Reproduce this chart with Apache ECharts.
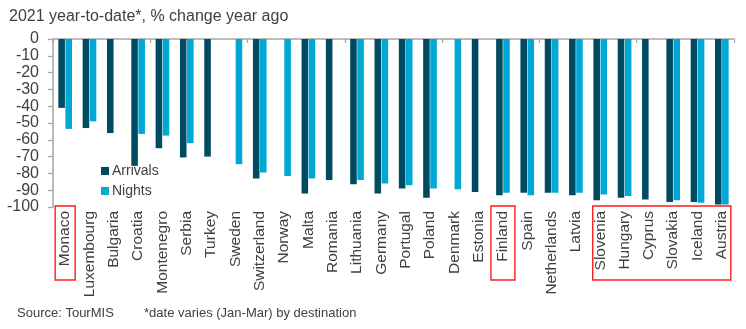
<!DOCTYPE html>
<html>
<head>
<meta charset="utf-8">
<script src="https://cdn.jsdelivr.net/npm/echarts@6/dist/echarts.min.js"></script>
<style>
  html, body { margin: 0; padding: 0; background: #fff; }
  #chart { width: 746px; height: 329px; }
</style>
</head>
<body>
<div id="chart"></div>
<script>
// Tourism change by destination, 2021 year-to-date vs year ago (%)
const countries = ['Monaco', 'Luxembourg', 'Bulgaria', 'Croatia', 'Montenegro', 'Serbia', 'Turkey',
  'Sweden', 'Switzerland', 'Norway', 'Malta', 'Romania', 'Lithuania', 'Germany', 'Portugal',
  'Poland', 'Denmark', 'Estonia', 'Finland', 'Spain', 'Netherlands', 'Latvia', 'Slovenia',
  'Hungary', 'Cyprus', 'Slovakia', 'Iceland', 'Austria'];

const arrivals = [-41, -53, -56, -75.5, -65, -70.5, -70, null, -83, null, -92, -84, -86.5, -92,
  -89, -94.5, null, -91, -93, -91.5, -91.5, -93, -96, -94.5, -95.5, -97, -97, -98.5];

const nights = [-53.5, -49, null, -56.5, -57.5, -62, null, -74.5, -79.5, -81.5, -83, null, -84,
  -86, -87, -89, -89.5, null, -91.5, -93, -91.5, -91.5, -92.5, -93.5, null, -96, -97.5, -98.5];

const yTicks = { min: -100, max: 0, step: 10 };

// Highlighted destinations: single countries and one run of neighbours
const singleHighlights = [['Monaco', 10], ['Finland', 12]];
const groupHighlight = ['Slovenia', 'Austria'];

const FONT = '"Liberation Sans", Arial, sans-serif';
const TEXT = '#404040';
const AXIS = '#a6a6a6';
const DARK = '#014b62';
const LIGHT = '#00a8d5';

const chart = echarts.init(document.getElementById('chart'), null, { renderer: 'canvas' });

chart.setOption({
  animation: false,
  backgroundColor: '#ffffff',
  textStyle: { fontFamily: FONT },
  title: {
    text: '2021 year-to-date*, % change year ago',
    left: 4, top: 4,
    textStyle: { fontFamily: FONT, fontSize: 16, fontWeight: 'normal', color: TEXT }
  },
  legend: {
    orient: 'vertical',
    left: 96, top: 159,
    itemWidth: 8, itemHeight: 8, itemGap: 6,
    icon: 'rect',
    textStyle: { fontFamily: FONT, fontSize: 14, color: TEXT, padding: [0, 0, 0, -2] },
    data: ['Arrivals', 'Nights']
  },
  grid: { left: 53, right: 12, top: 39, bottom: 122 },
  xAxis: [
    {
      type: 'category',
      data: countries,
      position: 'bottom',
      axisLine: { show: false },
      axisTick: { show: false },
      axisLabel: {
        rotate: 90, margin: 4, interval: 0,
        fontFamily: FONT, fontSize: 15.5, color: TEXT
      }
    },
    {
      type: 'category',
      data: countries,
      position: 'top',
      axisLine: { show: true, lineStyle: { color: AXIS, width: 1.5 } },
      axisTick: { show: true, inside: true, length: 4, lineStyle: { color: AXIS, width: 1.3 } },
      axisLabel: { show: false }
    }
  ],
  yAxis: {
    type: 'value',
    min: yTicks.min, max: yTicks.max, interval: yTicks.step,
    splitLine: { show: false },
    axisLine: { show: true, lineStyle: { color: AXIS, width: 1.5 } },
    axisTick: { show: true, length: 5, lineStyle: { color: AXIS, width: 1.3 } },
    axisLabel: { margin: 14, fontFamily: FONT, fontSize: 16, color: TEXT }
  },
  series: [
    {
      name: 'Arrivals', type: 'bar', xAxisIndex: 0,
      data: arrivals, barWidth: '27%', barGap: '8%',
      itemStyle: { color: DARK }
    },
    {
      name: 'Nights', type: 'bar', xAxisIndex: 0,
      data: nights, barWidth: '27%', barGap: '8%',
      itemStyle: { color: LIGHT }
    }
  ]
});

// Red frames around the highlighted axis labels, placed from the axis scale
function frameFor(x0, x1) {
  const yTop = chart.convertToPixel({ yAxisIndex: 0 }, yTicks.min) - 1;
  return {
    type: 'rect',
    shape: { x: x0, y: yTop, width: x1 - x0, height: 74 },
    style: { fill: 'none', stroke: '#ff1a1a', lineWidth: 1.4 },
    z: 100
  };
}
const frames = singleHighlights.map(([name, half]) => {
  const cx = chart.convertToPixel({ xAxisIndex: 0 }, name);
  return frameFor(cx - half, cx + half);
});
frames.push(frameFor(
  chart.convertToPixel({ xAxisIndex: 0 }, groupHighlight[0]) - 7.5,
  chart.convertToPixel({ xAxisIndex: 0 }, groupHighlight[1]) + 9
));

chart.setOption({
  graphic: frames.concat([
    {
      type: 'text', left: 17, top: 307,
      style: { text: 'Source: TourMIS', font: '13px ' + FONT, fill: TEXT }
    },
    {
      type: 'text', left: 144, top: 307,
      style: { text: '*date varies (Jan-Mar) by destination', font: '13px ' + FONT, fill: TEXT }
    }
  ])
});
</script>
</body>
</html>
